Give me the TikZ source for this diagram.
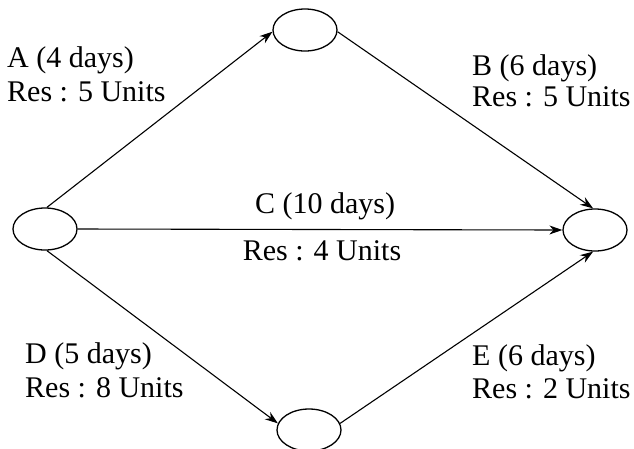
\documentclass[tikz,border=0pt]{standalone}
\usepackage{fontspec}
\setmainfont{Liberation Serif}
\usetikzlibrary{shapes.geometric,arrows.meta}
\begin{document}
\begin{tikzpicture}[x=1pt,y=-1pt,
  event/.style={draw,ellipse,line width=1.3pt,minimum width=64pt,minimum height=42pt,inner sep=0pt},
  act/.style={line width=1.1pt,-{Stealth[length=13pt,width=9pt]}},
  lbl/.style={anchor=base west,inner sep=0pt,font=\fontsize{30}{34}\selectfont},
  clbl/.style={anchor=base,inner sep=0pt,font=\fontsize{30}{34}\selectfont}]
\useasboundingbox (0,0) rectangle (634,448);
\node[event] (L) at (45,229) {};
\node[event] (T) at (305,30) {};
\node[event] (R) at (595,230) {};
\node[event] (Bt) at (309,430) {};
\draw[act] (L.85) -- (T.183);
\draw[act] (T.357) -- (R.95);
\draw[act] (L.east) -- (R.west);
\draw[act] (L.275) -- (Bt.168);
\draw[act] (Bt.12) -- (R.265);
\node[lbl] (a1) at (7,67) {A (4 days)};
\node[lbl] (a2) at (7,101) {Res : 5 Units};
\node[lbl] (b1) at (472,75) {B (6 days)};
\node[lbl] (b2) at (472,106) {Res : 5 Units};
\node[clbl] (c1) at (325,213) {C (10 days)};
\node[clbl] (c2) at (322,260) {Res : 4 Units};
\node[lbl] (d1) at (25,363) {D (5 days)};
\node[lbl] (d2) at (25,397) {Res : 8 Units};
\node[lbl] (e1) at (472,365) {E (6 days)};
\node[lbl] (e2) at (472,398) {Res : 2 Units};
\end{tikzpicture}
\end{document}
